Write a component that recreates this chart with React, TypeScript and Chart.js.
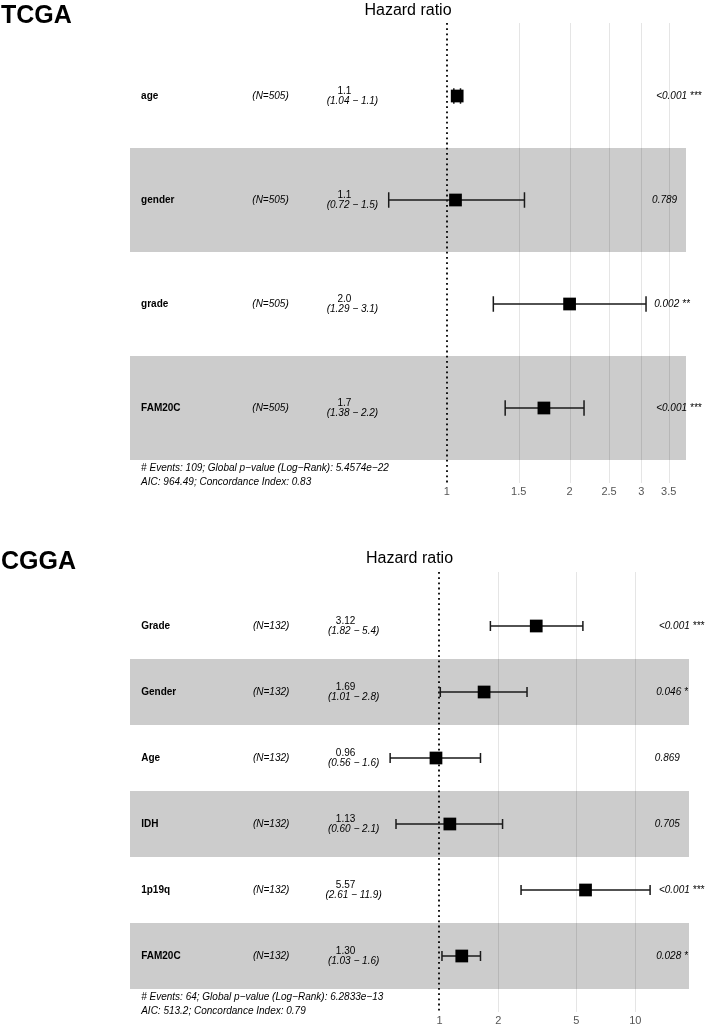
import React, { useEffect, useRef } from "react";
import { Chart, registerables } from "chart.js";
Chart.register(...registerables);

const FONT = '"Liberation Sans", Arial, Helvetica, sans-serif';

// ---------------- TCGA ----------------
const tcgaVars = ["age", "gender", "grade", "FAM20C"];
const tcgaN = ["(N=505)", "(N=505)", "(N=505)", "(N=505)"];
const tcgaHR = [1.06, 1.05, 2.0, 1.73];
const tcgaLow = [1.04, 0.72, 1.3, 1.39];
const tcgaHigh = [1.08, 1.55, 3.08, 2.17];
const tcgaHRLabels = ["1.1", "1.1", "2.0", "1.7"];
const tcgaCILabels = ["(1.04 − 1.1)", "(0.72 − 1.5)", "(1.29 − 3.1)", "(1.38 − 2.2)"];
const tcgaP = ["<0.001 ***", "0.789", "0.002 **", "<0.001 ***"];
const tcgaTicks = [1, 1.5, 2, 2.5, 3, 3.5];
const tcgaTickLabels = ["1", "1.5", "2", "2.5", "3", "3.5"];
const tcgaRange = [0.167, 3.86];
const tcgaFooter = [
  "# Events: 109; Global p−value (Log−Rank): 5.4574e−22",
  "AIC: 964.49; Concordance Index: 0.83",
];

// ---------------- CGGA ----------------
const cggaVars = ["Grade", "Gender", "Age", "IDH", "1p19q", "FAM20C"];
const cggaN = ["(N=132)", "(N=132)", "(N=132)", "(N=132)", "(N=132)", "(N=132)"];
const cggaHR = [3.12, 1.69, 0.96, 1.13, 5.57, 1.3];
const cggaLow = [1.82, 1.01, 0.56, 0.6, 2.61, 1.03];
const cggaHigh = [5.4, 2.8, 1.62, 2.1, 11.9, 1.62];
const cggaHRLabels = ["3.12", "1.69", "0.96", "1.13", "5.57", "1.30"];
const cggaCILabels = ["(1.82 − 5.4)", "(1.01 − 2.8)", "(0.56 − 1.6)", "(0.60 − 2.1)", "(2.61 − 11.9)", "(1.03 − 1.6)"];
const cggaP = ["<0.001 ***", "0.046 *", "0.869", "0.705", "<0.001 ***", "0.028 *"];
const cggaTicks = [1, 2, 5, 10];
const cggaTickLabels = ["1", "2", "5", "10"];
const cggaRange = [0.0263, 18.8];
const cggaFooter = [
  "# Events: 64; Global p−value (Log−Rank): 6.2833e−13",
  "AIC: 513.2; Concordance Index: 0.79",
];

type Panel = {
  title: string;
  titleBaseline: number;
  hrTitleBaseline: number;
  vars: string[];
  ns: string[];
  hr: number[];
  low: number[];
  high: number[];
  hrLabels: string[];
  ciLabels: string[];
  p: string[];
  ticks: number[];
  tickLabels: string[];
  range: number[];
  footer: string[];
  height: number;
  padTop: number;
  padRight: number;
  padBottom: number;
  tickPad: number;
};

function makePlugin(pn: Panel) {
  return {
    id: "forest",
    beforeDatasetsDraw(chart: any) {
      const { ctx, chartArea: ca } = chart;
      const x = chart.scales.x;
      const y = chart.scales.y;
      const W = ca.right - ca.left;
      const n = pn.vars.length;
      ctx.save();
      // alternating bands
      for (let i = 0; i < n; i++) {
        if (i % 2 === 1) {
          const t = y.getPixelForValue(i + 0.5);
          const b = y.getPixelForValue(i + 1.5);
          ctx.fillStyle = "#cccccc";
          ctx.fillRect(ca.left, t, W, b - t);
        }
      }
      const gTop = ca.top - 21;
      const gBot = ca.bottom + 23;
      // grid lines
      ctx.strokeStyle = "rgba(0,0,0,0.1)";
      ctx.lineWidth = 1;
      x.ticks.forEach((t: any) => {
        if (t.value === 1) return;
        const px = Math.round(x.getPixelForValue(t.value)) + 0.5;
        ctx.beginPath();
        ctx.moveTo(px, gTop);
        ctx.lineTo(px, gBot);
        ctx.stroke();
      });
      // dotted reference line at 1
      const p1 = Math.round(x.getPixelForValue(1));
      ctx.strokeStyle = "#000";
      ctx.lineWidth = 1.8;
      ctx.setLineDash([1.8, 3.4]);
      ctx.beginPath();
      ctx.moveTo(p1, gTop);
      ctx.lineTo(p1, gBot);
      ctx.stroke();
      ctx.setLineDash([]);
      // error bars
      ctx.strokeStyle = "#1a1a1a";
      ctx.lineWidth = 1.5;
      for (let i = 0; i < n; i++) {
        const r = i + 1;
        const py = y.getPixelForValue(r);
        const xl = x.getPixelForValue(pn.low[i]);
        const xh = x.getPixelForValue(pn.high[i]);
        const ct = y.getPixelForValue(r - 0.075);
        const cb = y.getPixelForValue(r + 0.075);
        ctx.beginPath();
        ctx.moveTo(xl, py);
        ctx.lineTo(xh, py);
        ctx.moveTo(xl, ct);
        ctx.lineTo(xl, cb);
        ctx.moveTo(xh, ct);
        ctx.lineTo(xh, cb);
        ctx.stroke();
      }
      // texts
      ctx.fillStyle = "#000";
      ctx.textBaseline = "middle";
      for (let i = 0; i < n; i++) {
        const py = y.getPixelForValue(i + 1);
        ctx.font = `bold 10px ${FONT}`;
        ctx.textAlign = "left";
        ctx.fillText(pn.vars[i], ca.left + 0.02 * W, py);
        ctx.font = `italic 10px ${FONT}`;
        ctx.fillText(pn.ns[i], ca.left + 0.22 * W, py);
        ctx.textAlign = "center";
        ctx.font = `10px ${FONT}`;
        ctx.fillText(pn.hrLabels[i], ca.left + 0.4 * W - 8, py - 5);
        ctx.font = `italic 10px ${FONT}`;
        ctx.fillText(pn.ciLabels[i], ca.left + 0.4 * W, py + 5);
        ctx.textAlign = "left";
        const w = ctx.measureText(pn.p[i]).width;
        ctx.fillText(pn.p[i], ca.left + 0.93 * W + 0.2 * w, py);
      }
      // footer
      ctx.textAlign = "left";
      ctx.font = `italic 10px ${FONT}`;
      ctx.fillText(pn.footer[0], ca.left + 0.02 * W, ca.bottom + 8);
      ctx.fillText(pn.footer[1], ca.left + 0.02 * W, ca.bottom + 22);
      // titles
      ctx.textBaseline = "alphabetic";
      ctx.font = `16px ${FONT}`;
      ctx.textAlign = "center";
      ctx.fillText("Hazard ratio", (ca.left + ca.right) / 2, pn.hrTitleBaseline);
      ctx.font = `bold 25px ${FONT}`;
      ctx.textAlign = "left";
      ctx.fillText(pn.title, 1, pn.titleBaseline);
      ctx.restore();
    },
  };
}

function ForestChart({ pn, top }: { pn: Panel; top: number }) {
  const ref = useRef<HTMLCanvasElement>(null);
  useEffect(() => {
    if (!ref.current) return;
    const n = pn.vars.length;
    const chart = new Chart(ref.current, {
      type: "scatter",
      data: {
        datasets: [
          {
            data: pn.hr.map((v, i) => ({ x: v, y: i + 1 })),
            pointStyle: "rect",
            pointRadius: 9,
            pointHoverRadius: 9,
            backgroundColor: "#000",
            borderWidth: 0,
          },
        ],
      },
      options: {
        animation: false,
        responsive: false,
        events: [],
        layout: { padding: { left: 130, right: pn.padRight, top: pn.padTop, bottom: pn.padBottom } },
        plugins: { legend: { display: false }, tooltip: { enabled: false }, title: { display: false } },
        scales: {
          x: {
            type: "logarithmic",
            min: pn.range[0],
            max: pn.range[1],
            grid: { display: false, drawTicks: false },
            border: { display: false },
            afterBuildTicks: (s: any) => {
              s.ticks = pn.ticks.map((v) => ({ value: v }));
            },
            ticks: {
              autoSkip: false,
              maxRotation: 0,
              padding: pn.tickPad,
              color: "#555",
              font: { family: FONT, size: 11 },
              callback: (v: any) => {
                const k = pn.ticks.indexOf(Number(v));
                return k >= 0 ? pn.tickLabels[k] : "";
              },
            },
          },
          y: { type: "linear", min: 0.5, max: n + 0.5, reverse: true, display: false },
        },
      } as any,
      plugins: [makePlugin(pn)],
    });
    return () => chart.destroy();
  }, [pn]);
  return (
    <canvas
      ref={ref}
      width={706}
      height={pn.height}
      style={{ position: "absolute", left: 0, top, width: 706, height: pn.height }}
    />
  );
}

const tcgaPanel: Panel = {
  title: "TCGA",
  titleBaseline: 22.5,
  hrTitleBaseline: 15,
  vars: tcgaVars,
  ns: tcgaN,
  hr: tcgaHR,
  low: tcgaLow,
  high: tcgaHigh,
  hrLabels: tcgaHRLabels,
  ciLabels: tcgaCILabels,
  p: tcgaP,
  ticks: tcgaTicks,
  tickLabels: tcgaTickLabels,
  range: tcgaRange,
  footer: tcgaFooter,
  height: 524,
  padTop: 44,
  padRight: 20,
  padBottom: 0.8,
  tickPad: 25,
};

const cggaPanel: Panel = {
  title: "CGGA",
  titleBaseline: 68.5,
  hrTitleBaseline: 63,
  vars: cggaVars,
  ns: cggaN,
  hr: cggaHR,
  low: cggaLow,
  high: cggaHigh,
  hrLabels: cggaHRLabels,
  ciLabels: cggaCILabels,
  p: cggaP,
  ticks: cggaTicks,
  tickLabels: cggaTickLabels,
  range: cggaRange,
  footer: cggaFooter,
  height: 560,
  padTop: 93,
  padRight: 17,
  padBottom: 7.8,
  tickPad: 25,
};

export default function App() {
  return (
    <div
      style={{
        position: "absolute",
        left: 0,
        top: 0,
        width: 706,
        height: 1027,
        overflow: "hidden",
        background: "#fff",
      }}
    >
      <ForestChart pn={tcgaPanel} top={0} />
      <ForestChart pn={cggaPanel} top={500} />
    </div>
  );
}
